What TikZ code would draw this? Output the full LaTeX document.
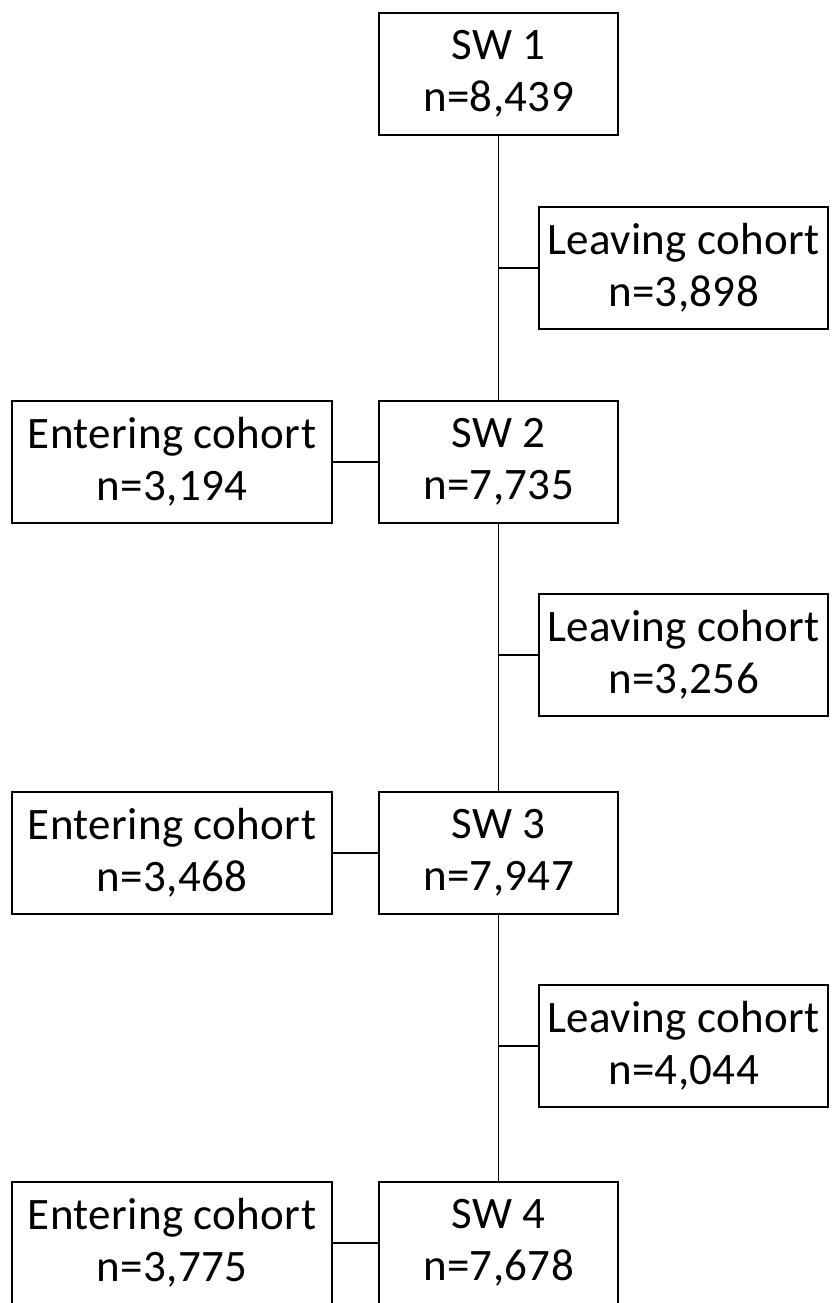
\documentclass[tikz,border=0pt]{standalone}
\usepackage{fontspec}
\setmainfont{Carlito}[LetterSpace=0.8]
\begin{document}
\begin{tikzpicture}[x=1pt,y=-1pt,
  box/.style={draw=black,line width=1.8pt,align=center,inner sep=0pt,
    font=\fontsize{45}{52}\selectfont,minimum height=122pt},
  swbox/.style={box,minimum width=239pt},
  enbox/.style={box,minimum width=320pt},
  lvbox/.style={box,minimum width=289pt},
  link/.style={line width=1.8pt}]
\useasboundingbox (0,0) rectangle (833,1303);
\node[swbox] (s1) at (498.5,74) {SW 1\\n=8,439};
\node[lvbox] (l1) at (683.5,268) {Leaving cohort\\n=3,898};
\node[enbox] (e2) at (172,462) {Entering cohort\\n=3,194};
\node[swbox] (s2) at (498.5,462) {SW 2\\n=7,735};
\node[lvbox] (l2) at (683.5,655) {Leaving cohort\\n=3,256};
\node[enbox] (e3) at (172,853) {Entering cohort\\n=3,468};
\node[swbox] (s3) at (498.5,853) {SW 3\\n=7,947};
\node[lvbox] (l3) at (683.5,1046) {Leaving cohort\\n=4,044};
\node[enbox] (e4) at (172,1243) {Entering cohort\\n=3,775};
\node[swbox] (s4) at (498.5,1243) {SW 4\\n=7,678};
\draw[link] (s1.south) -- (s2.north);
\draw[link] (s2.south) -- (s3.north);
\draw[link] (s3.south) -- (s4.north);
\draw[link] (l1.west) -- (l1.west -| s1.south);
\draw[link] (l2.west) -- (l2.west -| s2.south);
\draw[link] (l3.west) -- (l3.west -| s3.south);
\draw[link] (e2.east) -- (s2.west);
\draw[link] (e3.east) -- (s3.west);
\draw[link] (e4.east) -- (s4.west);
\end{tikzpicture}
\end{document}
